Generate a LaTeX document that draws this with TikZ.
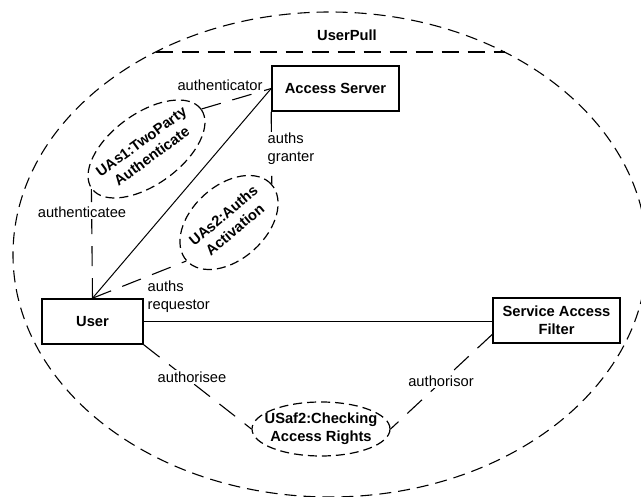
\documentclass[tikz,border=0pt]{standalone}
\usepackage{fontspec}
\setmainfont{Liberation Sans}
\usetikzlibrary{shapes.geometric,calc}
\begin{document}
\begin{tikzpicture}[x=1pt,y=-1pt,
  every node/.style={font=\fontsize{14.7}{18}\selectfont, inner sep=0pt},
  txt/.style={align=left, fill=white, inner sep=1.5pt},
  boldtxt/.style={font=\bfseries\fontsize{14.7}{18}\selectfont, align=center},
  box/.style={draw, line width=1.6pt, rectangle, minimum height=45pt,
    font=\bfseries\fontsize{14.7}{18}\selectfont, align=center},
  role/.style={draw, ellipse, line width=1.2pt, dash pattern=on 9pt off 5pt},
  link/.style={line width=1pt},
  rolelink/.style={line width=1.1pt, dash pattern=on 20pt off 12pt},
  frame/.style={line width=1.1pt, dash pattern=on 12pt off 7pt},
  chord/.style={line width=1.1pt, dash pattern=on 17pt off 9pt}
]
\useasboundingbox (0,0) rectangle (641,497);
\fill[white] (0,0) rectangle (641,497);
\clip (0,0) rectangle (641,497);

% collaboration boundary with its name compartment
\draw[frame] (330,254.5) ellipse [x radius=317, y radius=242.5];
\draw[chord] (155.5,52) -- (504.5,52);
\node[boldtxt] (title) at (347,35) {UserPull};

% classifier roles
\node[box, minimum width=127pt] (as)   at (335.5,88.5)  {Access Server};
\node[box, minimum width=101pt] (user) at (92.5,321.5)  {User};
\node[box, minimum width=127pt] (saf)  at (556.5,320.5) {Service Access\\Filter};

% collaboration uses
\node[role, rotate=36, minimum width=135pt, minimum height=71pt] (uas1) at (146.5,149) {};
\node[boldtxt, rotate=36] (uas1name) at (uas1.center) {UAs1:TwoParty\\Authenticate};
\node[role, rotate=42, minimum width=114pt, minimum height=74pt] (uas2) at (229,222.5) {};
\node[boldtxt, rotate=40] (uas2name) at (uas2.center) {UAs2:Auths\\Activation};
\node[role, minimum width=138pt, minimum height=54pt] (usaf2) at (321,429) {};
\node[boldtxt] (usaf2name) at (usaf2.center) {USaf2:Checking\\Access Rights};

% associations
\draw[link] (user.north) -- (as.west);
\draw[link] (user.east) -- (user.east -| saf.west);

% role bindings
\draw[rolelink] (user.north) -- (uas1.west);
\draw[rolelink] (uas1.east) -- (as.west);
\draw[rolelink] (as.south west) -- (uas2.east);
\draw[rolelink] (user.north) -- (uas2.west);
\draw[rolelink] (user.south east) -- (usaf2.west);
\draw[rolelink] ($(saf.south west)!0.2!(saf.north west)$) -- (usaf2.east);

% role names
\node[txt] (lauthenticator) at (220,85)  {authenticator};
\node[txt] (lauthenticatee) at (82,212)  {authenticatee};
\node[txt, anchor=west] (lgranter)   at (266,149)   {auths\\granter};
\node[txt, anchor=west] (lrequestor) at (146,296.5) {auths\\requestor};
\node[txt] (lauthorisee) at (192,377) {authorisee};
\node[txt] (lauthorisor) at (441,381) {authorisor};
\end{tikzpicture}
\end{document}
